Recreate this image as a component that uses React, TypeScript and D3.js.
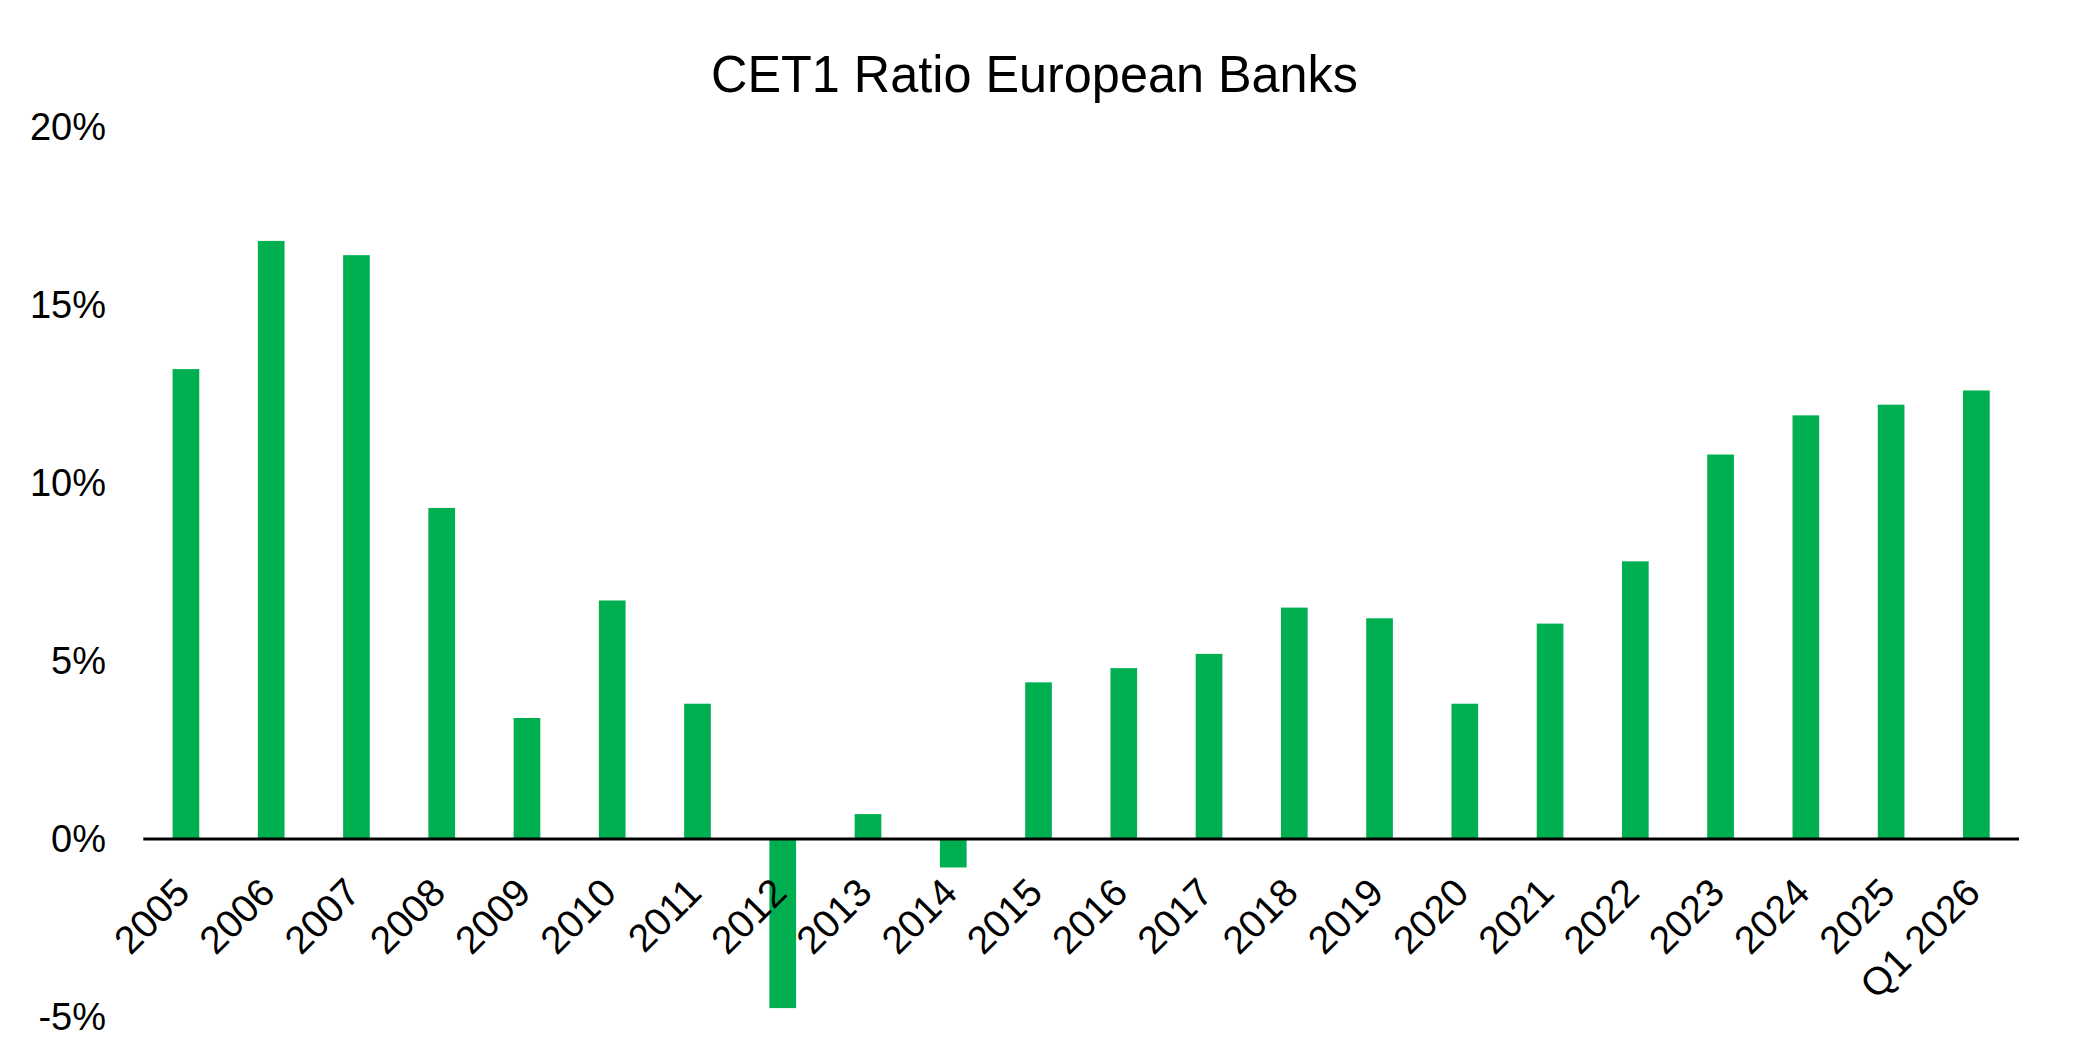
import React, { useEffect, useRef } from 'react'
import * as d3 from 'd3'

const categories = ['2005', '2006', '2007', '2008', '2009', '2010', '2011', '2012', '2013', '2014', '2015',
    '2016', '2017', '2018', '2019', '2020', '2021', '2022', '2023', '2024', '2025', 'Q1 2026']
const cet1Values = [13.2, 16.8, 16.4, 9.3, 3.4, 6.7, 3.8, -4.75, 0.7, -0.8, 4.4,
    4.8, 5.2, 6.5, 6.2, 3.8, 6.05, 7.8, 10.8, 11.9, 12.2, 12.6]
const yTicks = [-5, 0, 5, 10, 15, 20]
const title = 'CET1 Ratio European Banks'

const App = () => {
    const svgRef = useRef<SVGSVGElement>(null)

    useEffect(() => {
        const svg: any = d3.select(svgRef.current)
        svg.selectAll('*').remove()

        const font = '"Liberation Sans", Arial, sans-serif'
        const x = d3.scaleBand().domain(categories).range([143.3, 2019]).paddingInner(0.687).paddingOuter(0.3435)
        const y = d3.scaleLinear().domain([-5, 20]).range([1017, 127])

        // title
        svg.append('text')
            .attr('x', 1034.5)
            .attr('y', 92)
            .attr('text-anchor', 'middle')
            .attr('font-family', font)
            .attr('font-size', 52)
            .attr('textLength', 647)
            .attr('lengthAdjust', 'spacingAndGlyphs')
            .attr('fill', '#000')
            .text(title)

        // bars
        const data = categories.map((c, i) => ({ c, v: cet1Values[i] }))
        svg.append('g')
            .selectAll('rect')
            .data(data)
            .join('rect')
            .attr('x', (d: any) => x(d.c))
            .attr('width', x.bandwidth())
            .attr('y', (d: any) => y(Math.max(0, d.v)))
            .attr('height', (d: any) => Math.abs(y(d.v) - y(0)))
            .attr('fill', '#00B050')

        // zero axis line
        svg.append('line')
            .attr('x1', 143.3)
            .attr('x2', 2019)
            .attr('y1', y(0))
            .attr('y2', y(0))
            .attr('stroke', '#000')
            .attr('stroke-width', 3)

        // y tick labels
        svg.append('g')
            .selectAll('text')
            .data(yTicks)
            .join('text')
            .attr('x', 106)
            .attr('y', (d: number) => y(d))
            .attr('dy', '0.35em')
            .attr('text-anchor', 'end')
            .attr('font-family', font)
            .attr('font-size', 38)
            .attr('fill', '#000')
            .text((d: number) => `${d}%`)

        // category labels, rotated
        svg.append('g')
            .selectAll('text')
            .data(categories)
            .join('text')
            .attr('transform', (d: string) => `translate(${(x(d) as number) + x.bandwidth() / 2 + 6},${y(0) + 56}) rotate(-45)`)
            .attr('text-anchor', 'end')
            .attr('font-family', font)
            .attr('font-size', 39)
            .attr('fill', '#000')
            .text((d: string) => d)
    }, [])

    return (
        <svg ref={svgRef} width={2076} height={1045}
            style={{ position: 'absolute', left: 0, top: 0, background: '#fff' }}></svg>
    )
}

export default App
